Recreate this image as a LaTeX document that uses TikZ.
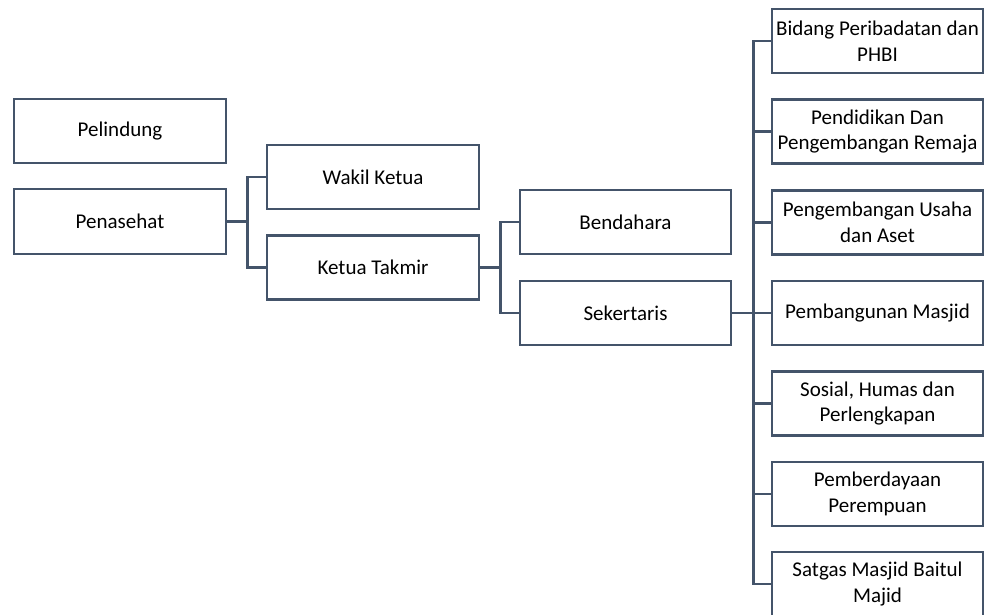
\documentclass[tikz,border=0pt]{standalone}
\usepackage{fontspec}
\setmainfont{Carlito}
\usetikzlibrary{calc}
\definecolor{lc}{HTML}{44546A}
\begin{document}
\begin{tikzpicture}[x=1pt,y=-1pt,
  box/.style={draw=lc,line width=2.8pt,fill=white,minimum width=211pt,minimum height=64pt,
    align=center,inner sep=0pt,font=\fontsize{21}{25.5}\selectfont,text=black},
  conn/.style={draw=lc,line width=2.8pt}]
\useasboundingbox (0,0) rectangle (987,614);
\node[box,minimum width=212pt] (pel) at (120,131) {Pelindung};
\node[box,minimum width=212pt,minimum height=65pt] (pen) at (120,221.5) {Penasehat};
\node[box,minimum width=212pt] (wak) at (373,177) {Wakil Ketua};
\node[box,minimum width=212pt] (ket) at (373,267.5) {Ketua Takmir};
\node[box] (ben) at (625.5,222) {Bendahara};
\node[box] (sek) at (625.5,313) {Sekertaris};
\node[box] (r1) at (877.5,41) {Bidang Peribadatan dan\\PHBI};
\node[box] (r2) at (877.5,131.5) {Pendidikan Dan\\Pengembangan Remaja};
\node[box] (r3) at (877.5,222.5) {Pengembangan Usaha\\dan Aset};
\node[box] (r4) at (877.5,313) {Pembangunan Masjid};
\node[box] (r5) at (877.5,403.5) {Sosial, Humas dan\\Perlengkapan};
\node[box] (r6) at (877.5,494) {Pemberdayaan\\Perempuan};
\node[box] (r7) at (877.5,584) {Satgas Masjid Baitul\\Majid};
\coordinate (j1) at ($(pen.east)+(20,0)$);
\coordinate (j2) at ($(ket.east)+(20,0)$);
\coordinate (j3) at ($(sek.east)+(21,0)$);
\draw[conn] (pen.east) -- (j1);
\draw[conn] (wak.west) -| (j1) |- (ket.west);
\draw[conn] (ket.east) -- (j2);
\draw[conn] (ben.west) -| (j2) |- (sek.west);
\draw[conn] (sek.east) -- (j3);
\draw[conn] (r1.west) -| (j3) |- (r7.west);
\foreach \n in {r2,r3,r4,r5,r6} \draw[conn] (\n.west) -- (\n.west -| j3);
\end{tikzpicture}
\end{document}
